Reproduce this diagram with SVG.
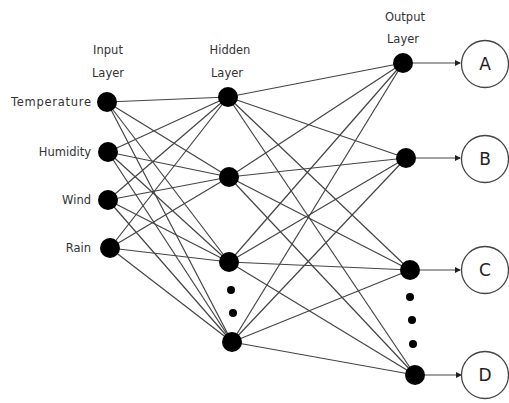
<svg xmlns="http://www.w3.org/2000/svg" width="509" height="403" viewBox="0 0 509 403">
<defs>
<style>
.lbl{font-family:"DejaVu Sans","Liberation Sans",sans-serif;font-size:11.5px;fill:#333}
.big{font-family:"DejaVu Sans","Liberation Sans",sans-serif;font-size:17px;fill:#222;text-anchor:middle}
.e line{stroke:#444;stroke-width:1.2}
.n{fill:#000}
.o{fill:#fff;stroke:#444;stroke-width:1.3}
.arr{stroke:#333;stroke-width:1.5;marker-end:url(#ah)}
</style>
<marker id="ah" markerWidth="6" markerHeight="6" refX="5" refY="3" orient="auto" markerUnits="userSpaceOnUse">
<path d="M0,0 L6,3 L0,6 Z" fill="#222"/>
</marker>
</defs>
<rect width="509" height="403" fill="#fff"/>
<g id="connectors" class="e">
<line x1="107" y1="102" x2="228" y2="97"/>
<line x1="107" y1="102" x2="229" y2="177"/>
<line x1="107" y1="102" x2="229" y2="262"/>
<line x1="107" y1="102" x2="232" y2="342"/>
<line x1="108" y1="152" x2="228" y2="97"/>
<line x1="108" y1="152" x2="229" y2="177"/>
<line x1="108" y1="152" x2="229" y2="262"/>
<line x1="108" y1="152" x2="232" y2="342"/>
<line x1="108" y1="200" x2="228" y2="97"/>
<line x1="108" y1="200" x2="229" y2="177"/>
<line x1="108" y1="200" x2="229" y2="262"/>
<line x1="108" y1="200" x2="232" y2="342"/>
<line x1="110" y1="248" x2="228" y2="97"/>
<line x1="110" y1="248" x2="229" y2="177"/>
<line x1="110" y1="248" x2="229" y2="262"/>
<line x1="110" y1="248" x2="232" y2="342"/>
<line x1="228" y1="97" x2="403" y2="63"/>
<line x1="228" y1="97" x2="406" y2="158"/>
<line x1="228" y1="97" x2="410" y2="270"/>
<line x1="228" y1="97" x2="415" y2="375"/>
<line x1="229" y1="177" x2="403" y2="63"/>
<line x1="229" y1="177" x2="406" y2="158"/>
<line x1="229" y1="177" x2="410" y2="270"/>
<line x1="229" y1="177" x2="415" y2="375"/>
<line x1="229" y1="262" x2="403" y2="63"/>
<line x1="229" y1="262" x2="406" y2="158"/>
<line x1="229" y1="262" x2="410" y2="270"/>
<line x1="229" y1="262" x2="415" y2="375"/>
<line x1="232" y1="342" x2="403" y2="63"/>
<line x1="232" y1="342" x2="406" y2="158"/>
<line x1="232" y1="342" x2="410" y2="270"/>
<line x1="232" y1="342" x2="415" y2="375"/>
<line class="arr" x1="413" y1="63" x2="460" y2="63"/>
<line class="arr" x1="416" y1="158" x2="460" y2="158"/>
<line class="arr" x1="420" y1="270" x2="460" y2="270"/>
<line class="arr" x1="425" y1="375" x2="461" y2="375"/>
</g>
<g id="labels">
<text class="lbl" x="108" y="54" text-anchor="middle">Input</text>
<text class="lbl" x="108" y="77" text-anchor="middle">Layer</text>
<text class="lbl" x="230" y="54" text-anchor="middle">Hidden</text>
<text class="lbl" x="227" y="77" text-anchor="middle">Layer</text>
<text class="lbl" x="405" y="21" text-anchor="middle">Output</text>
<text class="lbl" x="403" y="43" text-anchor="middle">Layer</text>
</g>
<g id="in-temperature"><circle class="n" cx="107" cy="102" r="10"/><text class="lbl" x="91" y="106" text-anchor="end" textLength="80">Temperature</text></g>
<g id="in-humidity"><circle class="n" cx="108" cy="152" r="10"/><text class="lbl" x="91" y="156" text-anchor="end">Humidity</text></g>
<g id="in-wind"><circle class="n" cx="108" cy="200" r="10"/><text class="lbl" x="91" y="204" text-anchor="end">Wind</text></g>
<g id="in-rain"><circle class="n" cx="110" cy="248" r="10"/><text class="lbl" x="91" y="252" text-anchor="end">Rain</text></g>
<g id="h1"><circle class="n" cx="228" cy="97" r="10"/></g>
<g id="h2"><circle class="n" cx="229" cy="177" r="10"/></g>
<g id="h3"><circle class="n" cx="229" cy="262" r="10"/></g>
<g id="h-dots"><circle class="n" cx="231" cy="290" r="4"/><circle class="n" cx="233" cy="313" r="4"/></g>
<g id="h4"><circle class="n" cx="232" cy="342" r="10"/></g>
<g id="o1"><circle class="n" cx="403" cy="63" r="10"/></g>
<g id="o2"><circle class="n" cx="406" cy="158" r="10"/></g>
<g id="o3"><circle class="n" cx="410" cy="270" r="10"/></g>
<g id="o-dots"><circle class="n" cx="410" cy="297" r="4"/><circle class="n" cx="412" cy="320" r="4"/><circle class="n" cx="413" cy="344" r="4"/></g>
<g id="o4"><circle class="n" cx="415" cy="375" r="10"/></g>
<g id="A"><circle class="o" cx="485" cy="64" r="23.5"/><text class="big" x="485" y="70">A</text></g>
<g id="B"><circle class="o" cx="485" cy="159" r="23.5"/><text class="big" x="485" y="165">B</text></g>
<g id="C"><circle class="o" cx="485" cy="270" r="23.5"/><text class="big" x="485" y="276">C</text></g>
<g id="D"><circle class="o" cx="485" cy="375" r="23.5"/><text class="big" x="485" y="381">D</text></g>
</svg>
